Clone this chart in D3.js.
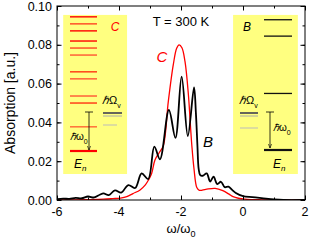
<!DOCTYPE html>
<html>
<head>
<meta charset="utf-8">
<script src="https://cdn.jsdelivr.net/npm/d3@7"></script>
<style>
  body { margin: 0; background: #fff; }
  text { font-family: "Liberation Sans", Arial, sans-serif; }
</style>
</head>
<body>
<script>
// absorption spectra, x in units of omega_0
var xC = [-6, -5, -4.5, -4.2, -3.95, -3.75, -3.55, -3.32, -3.15, -3.05, -2.95, -2.84, -2.7, -2.57, -2.41, -2.25, -2.14, -2.06, -1.97, -1.87, -1.76, -1.69, -1.65, -1.58, -1.49, -1.41, -1.2, -0.9, -0.65, -0.45, -0.32, -0.15, 0.06, 0.3, 0.6, 1, 2];
var yC = [0, 0.0002, 0.0004, 0.0007, 0.001, 0.0017, 0.0033, 0.0052, 0.0078, 0.0103, 0.0135, 0.0206, 0.0245, 0.028, 0.0507, 0.0696, 0.0782, 0.0800, 0.0785, 0.0713, 0.054, 0.037, 0.028, 0.016, 0.0064, 0.005, 0.0055, 0.006, 0.0048, 0.003, 0.0017, 0.0009, 0.0004, 0.0002, 0.0001, 0, 0];

var xB = [-6, -5.8, -5.6, -5.4, -5.2, -5.0, -4.8, -4.62, -4.5, -4.33, -4.13, -3.93, -3.7, -3.48, -3.27, -3.06, -2.86, -2.68, -2.39, -2.18, -1.98, -1.78, -1.58, -1.52, -1.47, -1.43, -1.38, -1.3, -1.17, -1.06, -0.95, -0.83, -0.71, -0.59, -0.47, -0.35, -0.23, 0, 0.3, 0.6, 1.0, 1.3, 2];
var yB = [0.0004, 0.0007, 0.0006, 0.0011, 0.0009, 0.0018, 0.0013, 0.0027, 0.0034, 0.0025, 0.005, 0.0038, 0.0077, 0.0062, 0.0137, 0.0108, 0.0275, 0.021, 0.0464, 0.032, 0.0636, 0.033, 0.058, 0.045, 0.028, 0.016, 0.0128, 0.0125, 0.0137, 0.0095, 0.012, 0.0082, 0.0094, 0.0066, 0.0069, 0.0052, 0.0036, 0.002, 0.0015, 0.001, 0.0003, 0, 0];

var xTicks = [-6, -4, -2, 0, 2];
var yTicks = [0, 0.02, 0.04, 0.06, 0.08, 0.10];

// inset level energies (in units of hbar omega_0 above E_n)
var levelsC = [3.44, 3.26, 3.08, 2.82, 2.64, 2.46, 2.03, 1.85, 1.41, 1.23, 0.62, 0];
var levelsCColor = ["#ff0000", "#ff4422", "#ff0000", "#ff0000", "#ff4422", "#ff5533", "#ff3311", "#ff5533", "#ff5533", "#ff3311", "#ff6633", "#ff0000"];
var levelsB = [3.34, 2.92, 1.45, 0];

var margin = {top: 6, right: 5, bottom: 42, left: 57},
    width = 310 - margin.left - margin.right,
    height = 242 - margin.top - margin.bottom;

var x = d3.scaleLinear().domain([-6, 2]).range([0, width]);
var y = d3.scaleLinear().domain([0, 0.10]).range([height, 0]);

var svg = d3.select("body").append("svg")
    .attr("width", 310)
    .attr("height", 242)
    .append("g")
    .attr("transform", "translate(" + margin.left + "," + margin.top + ")");

// insets (yellow boxes)
function inset(x0, x1, yTop, yBot) {
    svg.append("rect")
        .attr("x", x(x0)).attr("y", y(yTop))
        .attr("width", x(x1) - x(x0)).attr("height", y(yBot) - y(yTop))
        .style("fill", "#ffff80");
}
inset(-5.8, -3.74, 0.0954, 0.0134);
inset(-0.32, 1.77, 0.0954, 0.0134);

function levelScale(y0) {
    // y0: pixel position of E_n inside the plot; ~39 px per hbar omega_0
    return d3.scaleLinear().domain([0, 1]).range([y0, y0 - 39]);
}

// left inset, C
var lC = levelScale(145);
svg.selectAll(".levC")
    .data(levelsC)
    .enter()
    .append("line")
    .attr("x1", 13).attr("x2", 40)
    .attr("y1", d => lC(d)).attr("y2", d => lC(d))
    .style("stroke", (d, i) => levelsCColor[i])
    .style("stroke-width", (d, i) => i == levelsC.length - 1 ? 2.2 : 1.4);

// right inset, B
var lB = levelScale(144);
svg.selectAll(".levB")
    .data(levelsB)
    .enter()
    .append("line")
    .attr("x1", 207).attr("x2", 235)
    .attr("y1", d => lB(d)).attr("y2", d => lB(d))
    .style("stroke", "#111")
    .style("stroke-width", (d, i) => i == levelsB.length - 1 ? 2.2 : 1.3);

var defs = svg.append("defs");
defs.append("marker")
    .attr("id", "arr")
    .attr("viewBox", "0 0 10 10")
    .attr("refX", 10).attr("refY", 5)
    .attr("markerWidth", 5).attr("markerHeight", 5)
    .attr("orient", "auto")
    .append("path")
    .attr("d", "M0,1 L10,5 L0,9")
    .style("fill", "none")
    .style("stroke", "#000")
    .style("stroke-width", 1.5);

function arrow(ax, yTopPx, yBotPx) {
    svg.append("line")
        .attr("x1", ax - 4).attr("x2", ax + 4)
        .attr("y1", yTopPx).attr("y2", yTopPx)
        .style("stroke", "#000").style("stroke-width", 0.8);
    svg.append("line")
        .attr("x1", ax).attr("x2", ax)
        .attr("y1", yTopPx).attr("y2", yBotPx)
        .attr("marker-end", "url(#arr)")
        .style("stroke", "#000").style("stroke-width", 0.8);
}
arrow(32, 106, 144);
arrow(213, 106, 142);

// hbar Omega_v marks
function omegaMarks(x1, x2, y1) {
    svg.append("line").attr("x1", x1).attr("x2", x2).attr("y1", y1).attr("y2", y1)
        .style("stroke", "#555").style("stroke-width", 1.8);
    svg.append("line").attr("x1", x1).attr("x2", x2).attr("y1", y1 + 3).attr("y2", y1 + 3)
        .style("stroke", "#aaa").style("stroke-width", 1);
}
omegaMarks(46, 65, 107);
svg.append("line").attr("x1", 46).attr("x2", 60).attr("y1", 119).attr("y2", 119)
    .style("stroke", "#bbb").style("stroke-width", 1);
omegaMarks(183, 201, 107);
svg.append("line").attr("x1", 183).attr("x2", 201).attr("y1", 122).attr("y2", 122)
    .style("stroke", "#bbb").style("stroke-width", 1);

function hbarLabel(tx, ty, sym, sub, fs) {
    var t = svg.append("text")
        .attr("x", tx).attr("y", ty)
        .style("font-size", fs + "px")
        .style("font-style", "italic");
    t.append("tspan").text("\u210F");
    t.append("tspan").style("font-style", "normal").text(sym);
    t.append("tspan").attr("dy", 4).style("font-size", "7px").style("font-style", "normal").text(sub);
}
hbarLabel(45, 98, "\u03A9", "v", 11);
hbarLabel(182, 98, "\u03A9", "v", 11);
hbarLabel(13, 134, "\u03C9", "0", 10);
hbarLabel(216, 125, "\u03C9", "0", 10);

function enLabel(tx, ty) {
    var t = svg.append("text")
        .attr("x", tx).attr("y", ty)
        .style("font-size", "12px")
        .style("font-style", "italic");
    t.append("tspan").text("E");
    t.append("tspan").attr("dy", 3).style("font-size", "8px").text("n");
}
enLabel(17, 162);
enLabel(216, 162);

svg.append("text").attr("x", 58).attr("y", 25)
    .style("font-size", "12px").style("font-style", "italic").style("fill", "#ff0000")
    .style("text-anchor", "middle").text("C");
svg.append("text").attr("x", 190).attr("y", 25)
    .style("font-size", "12px").style("font-style", "italic")
    .style("text-anchor", "middle").text("B");

// curves
var clip = defs.append("clipPath").attr("id", "clip");
clip.append("rect").attr("width", width).attr("height", height);

var dataC = xC.map((v, i) => ({x: v, y: yC[i]}));
var dataB = xB.map((v, i) => ({x: v, y: yB[i]}));

var line = d3.line()
    .x(d => x(d.x))
    .y(d => y(d.y))
    .curve(d3.curveCatmullRom.alpha(0.5));

svg.append("path")
    .datum(dataC)
    .attr("clip-path", "url(#clip)")
    .attr("d", line)
    .style("fill", "none")
    .style("stroke", "#ff0000")
    .style("stroke-width", "1.3px");

svg.append("path")
    .datum(dataB)
    .attr("clip-path", "url(#clip)")
    .attr("d", line)
    .style("fill", "none")
    .style("stroke", "#000")
    .style("stroke-width", "1.8px");

// curve labels
svg.append("text").attr("x", 105).attr("y", 56)
    .style("font-size", "15px").style("font-style", "italic").style("fill", "#ff0000")
    .style("text-anchor", "middle").text("C");
svg.append("text").attr("x", 151).attr("y", 141)
    .style("font-size", "15px").style("font-style", "italic")
    .style("text-anchor", "middle").text("B");

svg.append("text").attr("x", 124).attr("y", 20)
    .style("font-size", "13px").style("text-anchor", "middle").text("T = 300 K");

// frame with inward ticks on all sides
svg.append("rect")
    .attr("width", width).attr("height", height)
    .style("fill", "none").style("stroke", "#000").style("stroke-width", 1);

var xMinor = d3.range(-6, 2.01, 1);
var yMinor = d3.range(0, 0.1001, 0.01);

function tk(g, scale, vals, len) {
    return g.call(scale.tickValues(vals).tickSize(len).tickFormat(""))
        .call(s => s.select(".domain").remove());
}
svg.append("g").attr("transform", "translate(0," + height + ")")
    .call(g => tk(g, d3.axisTop(x), xMinor, 2.5));
svg.append("g").attr("transform", "translate(0," + height + ")")
    .call(g => tk(g, d3.axisTop(x), xTicks, 4.5));
svg.append("g").call(g => tk(g, d3.axisBottom(x), xMinor, 2.5));
svg.append("g").call(g => tk(g, d3.axisBottom(x), xTicks, 4.5));
svg.append("g").call(g => tk(g, d3.axisRight(y), yMinor, 2.5));
svg.append("g").call(g => tk(g, d3.axisRight(y), yTicks, 4.5));
svg.append("g").attr("transform", "translate(" + width + ",0)")
    .call(g => tk(g, d3.axisLeft(y), yMinor, 2.5));
svg.append("g").attr("transform", "translate(" + width + ",0)")
    .call(g => tk(g, d3.axisLeft(y), yTicks, 4.5));

// tick labels
svg.selectAll(".xl")
    .data(xTicks)
    .enter()
    .append("text")
    .attr("x", d => x(d))
    .attr("y", height + 16)
    .style("font-size", "12.5px")
    .style("text-anchor", "middle")
    .text(d => d < 0 ? "-" + Math.abs(d) : d);

svg.selectAll(".yl")
    .data(yTicks)
    .enter()
    .append("text")
    .attr("x", -5)
    .attr("y", d => y(d) + 4.5)
    .style("font-size", "12.5px")
    .style("text-anchor", "end")
    .text(d => d3.format(".2f")(d));

// axis titles
var xt = svg.append("text")
    .attr("x", 124).attr("y", height + 33)
    .style("font-size", "13px")
    .style("text-anchor", "middle");
xt.append("tspan").text("\u03C9/\u03C9");
xt.append("tspan").attr("dy", 4).style("font-size", "9px").text("0");

svg.append("text")
    .attr("transform", "rotate(-90)")
    .attr("x", -height / 2)
    .attr("y", -42)
    .style("font-size", "14px")
    .style("text-anchor", "middle")
    .text("Absorption [a.u.]");
</script>
</body>
</html>
